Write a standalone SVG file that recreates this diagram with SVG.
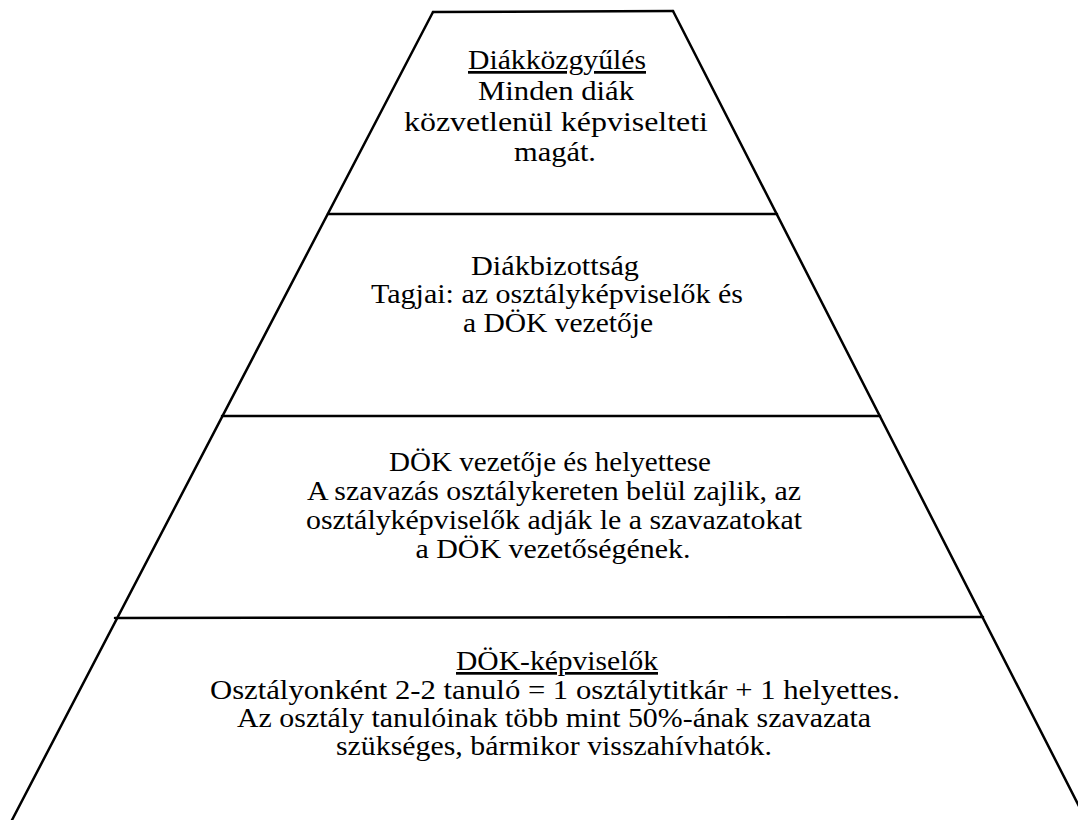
<svg xmlns="http://www.w3.org/2000/svg" width="1078" height="820" viewBox="0 0 1078 820">
<style>
.edge{stroke:#000;stroke-width:2.5;fill:none;stroke-linecap:round}
text{font-family:'Liberation Serif','Times New Roman',serif;font-size:27px;fill:#000;text-anchor:middle}
.u{text-decoration:underline}
</style>
<rect width="1078" height="820" fill="#fff"/>
<g id="connectors">
<line class="edge" x1="433" y1="12" x2="673" y2="11"/>
<line class="edge" x1="433" y1="12" x2="12" y2="820"/>
<line class="edge" x1="673" y1="11" x2="1082" y2="812"/>
<line class="edge" x1="328" y1="214" x2="777" y2="214"/>
<line class="edge" x1="222" y1="416" x2="880" y2="416"/>
<line class="edge" x1="115" y1="618" x2="983" y2="617"/>
</g>
<g id="level1">
<text class="u" x="557" y="69" textLength="178" lengthAdjust="spacingAndGlyphs">Diákközgyűlés</text>
<text x="556" y="100" textLength="156" lengthAdjust="spacingAndGlyphs">Minden diák</text>
<text x="556" y="131" textLength="304" lengthAdjust="spacingAndGlyphs">közvetlenül képviselteti</text>
<text x="555" y="161" textLength="82" lengthAdjust="spacingAndGlyphs">magát.</text>
</g>
<g id="level2">
<text x="555" y="275" textLength="168" lengthAdjust="spacingAndGlyphs">Diákbizottság</text>
<text x="557" y="303" textLength="372" lengthAdjust="spacingAndGlyphs">Tagjai: az osztályképviselők és</text>
<text x="558" y="332" textLength="190" lengthAdjust="spacingAndGlyphs">a DÖK vezetője</text>
</g>
<g id="level3">
<text x="550" y="471" textLength="322" lengthAdjust="spacingAndGlyphs">DÖK vezetője és helyettese</text>
<text x="554" y="500" textLength="494" lengthAdjust="spacingAndGlyphs">A szavazás osztálykereten belül zajlik, az</text>
<text x="554" y="529" textLength="496" lengthAdjust="spacingAndGlyphs">osztályképviselők adják le a szavazatokat</text>
<text x="553" y="558" textLength="275" lengthAdjust="spacingAndGlyphs">a DÖK vezetőségének.</text>
</g>
<g id="level4">
<text class="u" x="557" y="670" textLength="202" lengthAdjust="spacingAndGlyphs">DÖK-képviselők</text>
<text x="555" y="699" textLength="690" lengthAdjust="spacingAndGlyphs">Osztályonként 2-2 tanuló = 1 osztálytitkár + 1 helyettes.</text>
<text x="554" y="727" textLength="634" lengthAdjust="spacingAndGlyphs">Az osztály tanulóinak több mint 50%-ának szavazata</text>
<text x="554" y="755" textLength="436" lengthAdjust="spacingAndGlyphs">szükséges, bármikor visszahívhatók.</text>
</g>
</svg>
